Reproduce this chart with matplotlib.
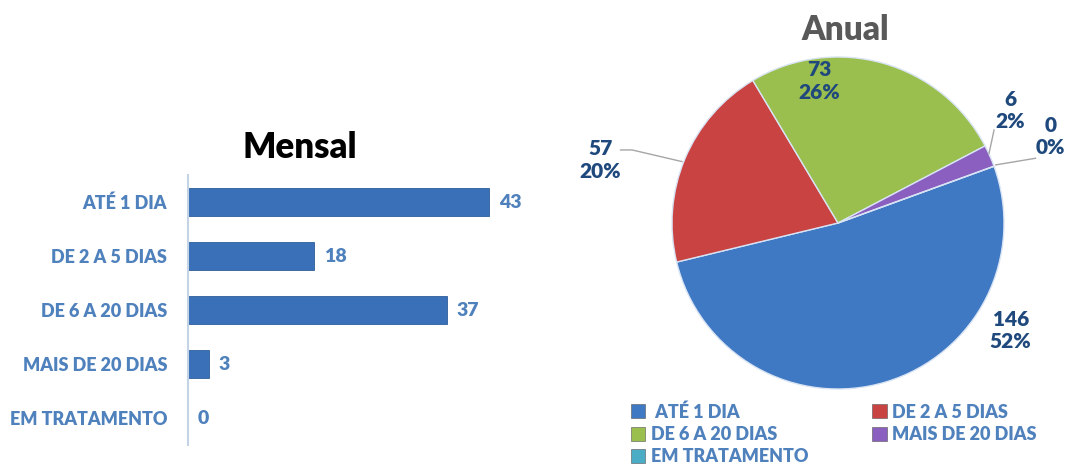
import matplotlib.pyplot as plt
from matplotlib.patches import Patch

# data
categories = ["ATÉ 1 DIA", "DE 2 A 5 DIAS", "DE 6 A 20 DIAS", "MAIS DE 20 DIAS", "EM TRATAMENTO"]
mensal = [43, 18, 37, 3, 0]
anual = [146, 57, 73, 6, 0]
anual_pct = ["52%", "20%", "26%", "2%", "0%"]

pie_colors = ["#3f78c3", "#c94343", "#9bbf4f", "#8a5fc0", "#4bacc6"]
bar_color = "#3a70b8"
label_blue = "#4f81bd"
navy = "#1f497d"

plt.rcParams["font.family"] = ["Lato", "DejaVu Sans"]
plt.rcParams["font.weight"] = "heavy"

fig = plt.figure(figsize=(10.69, 4.71), dpi=100)
W, H = 1069, 471

# ---- Mensal (bar chart)
ax = fig.add_axes([188 / W, 26 / H, 352 / W, 270 / H])
ypos = range(len(categories))
bars = ax.barh(ypos, mensal, height=0.52, color=bar_color, edgecolor="#2f5e9c", linewidth=0.6)
ax.set_ylim(4.5, -0.5)
ax.set_xlim(0, 50.3)
ax.set_yticks(list(ypos))
ax.set_yticklabels(categories, color=label_blue, fontsize=13, fontweight="heavy")
ax.tick_params(axis="y", length=0, pad=15)
ax.set_xticks([])
for s in ["top", "right", "bottom"]:
    ax.spines[s].set_visible(False)
ax.spines["left"].set_color("#c5d3e6")
ax.spines["left"].set_linewidth(1.5)
ax.bar_label(bars, padding=7, color=label_blue, fontsize=14, fontweight="heavy")
fig.text(300 / W, 1 - 148 / H, "Mensal", ha="center", va="center",
         fontsize=25, fontweight="heavy", color="black")

# ---- Anual (pie)
cx, cy, r = 838, 223, 166
pax = fig.add_axes([(cx - r) / W, (H - cy - r) / H, 2 * r / W, 2 * r / H])
wedges, _ = pax.pie(anual, colors=pie_colors, startangle=20, counterclock=False,
                    wedgeprops=dict(edgecolor="#d8e4f4", linewidth=1.0))
pax.set_xlim(-1, 1)
pax.set_ylim(-1, 1)

label_xy = [(1.04, -0.65), (-1.43, 0.38), (-0.11, 0.855), (1.04, 0.68), (1.28, 0.52)]
for (lx, ly), v, p in zip(label_xy, anual, anual_pct):
    pax.text(lx, ly, f"{v}\n{p}", ha="center", va="center", color=navy,
             fontsize=15, fontweight="heavy", linespacing=1.2, clip_on=False)

leader_lines = [
    ([-1.31, -1.24, -0.94], [0.44, 0.44, 0.37]),
    ([0.94, 0.91], [0.56, 0.42]),
    ([1.19, 0.95], [0.39, 0.35]),
]
for xs, ys in leader_lines:
    pax.plot(xs, ys, color="#a6a6a6", lw=1, clip_on=False)

fig.text(845 / W, 1 - 30 / H, "Anual", ha="center", va="center",
         fontsize=24, fontweight="heavy", color="#595959")

handles = [Patch(facecolor=c, edgecolor="#555555", linewidth=0.4) for c in pie_colors]
labels = [" ATÉ 1 DIA", "DE 2 A 5 DIAS", "DE 6 A 20 DIAS", "MAIS DE 20 DIAS", "EM TRATAMENTO"]
order = [0, 2, 4, 1, 3]
leg = fig.legend([handles[i] for i in order], [labels[i] for i in order],
                 ncol=2, loc="upper left", bbox_to_anchor=(622 / W, 1 - 394 / H),
                 frameon=False, fontsize=13, labelcolor=label_blue,
                 handlelength=0.8, handleheight=0.8, handletextpad=0.3,
                 columnspacing=3.55, labelspacing=0.3, borderpad=0)
for t in leg.get_texts():
    t.set_fontweight("heavy")

fig.savefig("out.png", dpi=100)
